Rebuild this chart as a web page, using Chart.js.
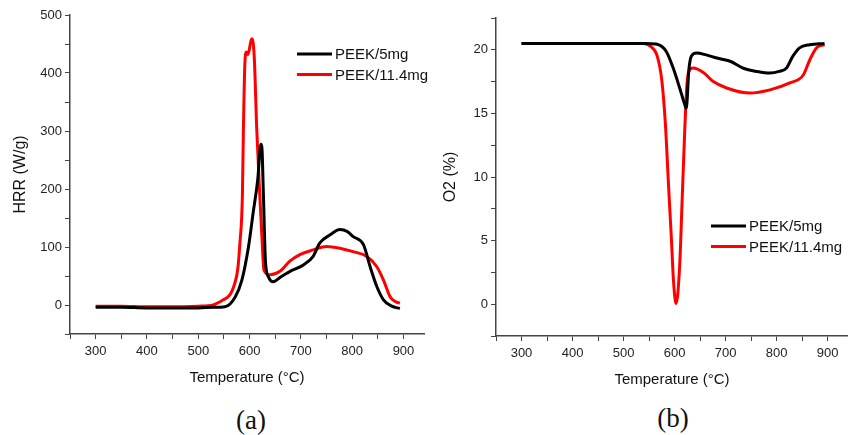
<!DOCTYPE html>
<html>
<head>
<meta charset="utf-8">
<script src="https://cdn.jsdelivr.net/npm/chart.js@4"></script>
<style>
  body { margin: 0; background: #fff; width: 848px; height: 435px; overflow: hidden; position: relative; }
  .panel { position: absolute; top: 0; height: 400px; }
  .cap { position: absolute; font-family: 'Liberation Serif', 'Times New Roman', serif; font-size: 27px; line-height: 1; transform: translate(-50%, -50%); color: #111; }
</style>
</head>
<body>
<div class="panel" style="left:0; width:470px"><canvas id="hrrChart" width="470" height="400"></canvas></div>
<div class="panel" style="left:424px; width:424px"><canvas id="o2Chart" width="424" height="400"></canvas></div>
<div class="cap" style="left:251px; top:420px">(a)</div>
<div class="cap" style="left:673px; top:418px">(b)</div>
<script>
// panel (a): heat release rate
const hrrTemp5 = [300, 350, 400, 450, 500, 530, 552, 572, 585, 598, 607, 616, 622, 624, 627, 631, 637, 646, 660, 679, 705, 724, 737, 757, 776, 790, 802, 822, 835, 848, 861, 877, 893];
const hrr5 = [-4, -4, -5, -5, -5, -4, -3, 14, 43, 101, 159, 217, 277, 272, 190, 75, 48, 40, 48, 58, 69, 84, 107, 121, 130, 127, 118, 104, 66, 32, 9, -2, -6];
const hrrTemp11 = [300, 350, 400, 450, 500, 529, 549, 562, 570, 577, 581, 586, 588, 591, 594, 597, 604, 609, 614, 620, 625, 628, 640, 659, 679, 698, 724, 750, 776, 802, 828, 848, 861, 874, 884, 893];
const hrr11 = [-2, -2, -3, -3, -2, 0, 9, 18, 34, 62, 105, 188, 303, 419, 436, 432, 459, 430, 303, 188, 101, 60, 52, 58, 76, 87, 95, 101, 98, 92, 84, 66, 43, 14, 6, 3];

// panel (b): oxygen concentration
const o2Temp5 = [300, 400, 500, 540, 564, 584, 597, 610, 620, 623, 628, 633, 643, 662, 683, 709, 735, 761, 787, 805, 819, 832, 845, 865, 894];
const o25 = [20.5, 20.5, 20.5, 20.5, 20.45, 19.85, 18.6, 17.0, 15.7, 15.4, 18.4, 19.5, 19.75, 19.6, 19.35, 19.1, 18.55, 18.3, 18.17, 18.3, 18.55, 19.5, 20.15, 20.4, 20.5];
const o2Temp11 = [300, 400, 500, 540, 553, 566, 575, 582, 588, 594, 598, 603, 610, 615, 620, 624, 628, 636, 657, 676, 702, 748, 787, 826, 852, 865, 878, 894];
const o211 = [20.5, 20.5, 20.5, 20.5, 20.27, 19.5, 17.6, 14.2, 9.5, 5.0, 1.8, 0.05, 3.0, 8.3, 13.7, 17.1, 18.3, 18.56, 18.2, 17.5, 17.0, 16.6, 16.85, 17.4, 18.0, 19.2, 20.15, 20.4];

const seriesLabels = ['PEEK/5mg', 'PEEK/11.4mg'];
const seriesColors = ['#000000', '#ff0000'];

Chart.defaults.font.family = "'Liberation Sans', Arial, sans-serif";
Chart.defaults.color = '#222';

const toPoints = (xs, ys) => xs.map((x, i) => ({ x, y: ys[i] }));

// legend drawn inside the plot like the original figure
const insideLegend = {
    id: 'insideLegend',
    afterDraw(chart, args, opts) {
        const ctx = chart.ctx;
        ctx.save();
        ctx.font = "15px 'Liberation Sans', Arial, sans-serif";
        ctx.textBaseline = 'middle';
        chart.data.datasets.forEach((ds, i) => {
            const y = opts.y + i * opts.gap;
            ctx.strokeStyle = ds.borderColor;
            ctx.lineWidth = 3;
            ctx.beginPath();
            ctx.moveTo(opts.x, y);
            ctx.lineTo(opts.x + 35, y);
            ctx.stroke();
            ctx.fillStyle = '#111';
            ctx.fillText(ds.label, opts.x + 38, y + 1);
        });
        ctx.restore();
    }
};

function makeChart(id, sets, yOpts, legendPos, pad) {
    return new Chart(document.getElementById(id), {
        type: 'line',
        data: {
            datasets: sets.map((s, i) => ({
                label: seriesLabels[i],
                data: s,
                borderColor: seriesColors[i],
                borderWidth: 3,
                pointRadius: 0,
                cubicInterpolationMode: 'monotone',
                fill: false
            }))
        },
        options: {
            responsive: false,
            animation: false,
            layout: { padding: { top: pad.top, left: 0, right: pad.right, bottom: 0 } },
            plugins: { legend: { display: false }, tooltip: { enabled: false }, insideLegend: legendPos },
            scales: {
                x: {
                    type: 'linear', min: 250, max: 940,
                    afterFit: (s) => { s.height = 400 - pad.bottomAxis; },
                    grid: { drawOnChartArea: false, drawTicks: true, tickLength: 5, color: '#444' },
                    border: { display: true, color: '#444', width: 1.5 },
                    ticks: {
                        stepSize: 50, includeBounds: false, autoSkip: false, maxRotation: 0, padding: 5,
                        font: { size: 13 }, color: '#222',
                        callback: (v) => (v % 100 === 0 ? v : '')
                    },
                    title: { display: true, text: 'Temperature (°C)', font: { size: 15 }, color: '#111', padding: { top: 0, bottom: pad.xTitle } }
                },
                y: {
                    min: yOpts.min, max: yOpts.max,
                    afterFit: (s) => { s.width = pad.leftAxis; },
                    grid: { drawOnChartArea: false, drawTicks: true, tickLength: 5, color: '#444' },
                    border: { display: true, color: '#444', width: 1.5 },
                    ticks: {
                        stepSize: yOpts.step, includeBounds: false, autoSkip: false, padding: 3,
                        font: { size: 13 }, color: '#222',
                        callback: (v) => (v >= 0 && Math.abs(v % yOpts.label) < 1e-6 ? v : '')
                    },
                    title: { display: true, text: yOpts.title, font: { size: 16 }, color: '#111', padding: { top: pad.yTitle, bottom: 0 } }
                }
            }
        },
        plugins: [insideLegend]
    });
}

makeChart('hrrChart',
    [toPoints(hrrTemp5, hrr5), toPoints(hrrTemp11, hrr11)],
    { min: -50, max: 500, step: 50, label: 100, title: 'HRR (W/g)' },
    { x: 297, y: 54, gap: 20.5 },
    { top: 15, right: 46, bottomAxis: 334, leftAxis: 70, xTitle: 13, yTitle: 11 });

makeChart('o2Chart',
    [toPoints(o2Temp5, o25), toPoints(o2Temp11, o211)],
    { min: -2.5, max: 22.5, step: 2.5, label: 5, title: 'O2 (%)' },
    { x: 287, y: 226, gap: 20.5 },
    { top: 18, right: 0, bottomAxis: 336, leftAxis: 72, xTitle: 11, yTitle: 17 });
</script>
</body>
</html>
